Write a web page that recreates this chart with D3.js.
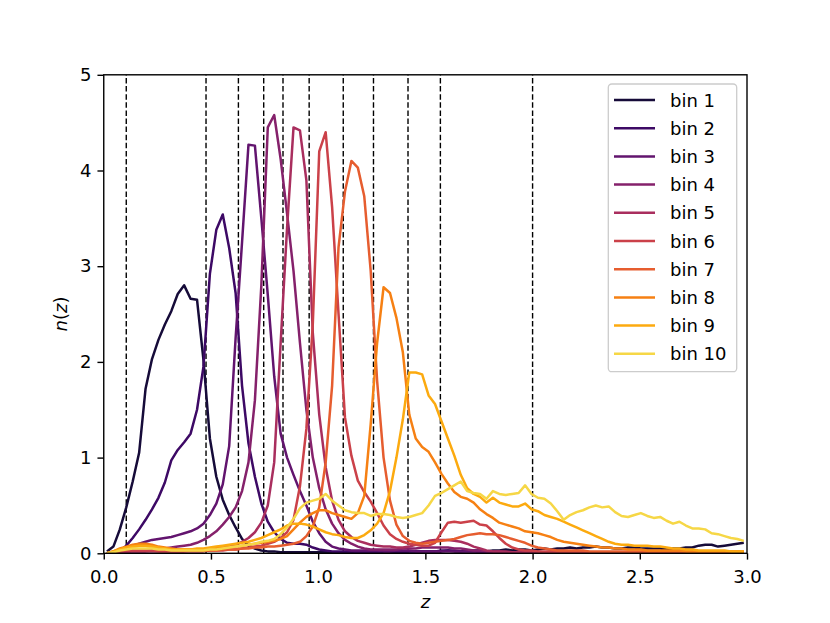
<!DOCTYPE html>
<html lang="en">
<head>
<meta charset="UTF-8">
<title>n(z) per tomographic bin</title>
<style>
  body { margin: 0; background: #fff; }
  svg { display: block; font-family: "DejaVu Sans", sans-serif; }
</style>
</head>
<body>
<svg id="chart" width="830" height="623"></svg>
<script src="https://d3js.org/d3.v7.min.js"></script>
<script>
// redshift grid (bin centres)
const zGrid = [
  0.015,0.045,0.075,0.105,0.135,0.165,0.195,0.225,0.255,0.285,
  0.315,0.345,0.375,0.405,0.435,0.465,0.495,0.525,0.555,0.585,
  0.615,0.645,0.675,0.705,0.735,0.765,0.795,0.825,0.855,0.885,
  0.915,0.945,0.975,1.005,1.035,1.065,1.095,1.125,1.155,1.185,
  1.215,1.245,1.275,1.305,1.335,1.365,1.395,1.425,1.455,1.485,
  1.515,1.545,1.575,1.605,1.635,1.665,1.695,1.725,1.755,1.785,
  1.815,1.845,1.875,1.905,1.935,1.965,1.995,2.025,2.055,2.085,
  2.115,2.145,2.175,2.205,2.235,2.265,2.295,2.325,2.355,2.385,
  2.415,2.445,2.475,2.505,2.535,2.565,2.595,2.625,2.655,2.685,
  2.715,2.745,2.775,2.805,2.835,2.865,2.895,2.925,2.955,2.985
];

const bin1 = [
  0.02,0.07,0.25,0.48,0.75,1.05,1.72,2.03,2.23,2.39,
  2.53,2.71,2.80,2.66,2.65,2.02,1.20,0.80,0.56,0.40,
  0.27,0.15,0.08,0.05,0.03,0.02,0.02,0.01,0.01,0.01,
  0.01,0.01,0.01,0.01,0.01,0.01,0.01,0.01,0.01,0.01,
  0.01,0.01,0.01,0.01,0.01,0.01,0.01,0.02,0.02,0.02,
  0.02,0.02,0.02,0.03,0.02,0.02,0.03,0.03,0.03,0.02,
  0.03,0.03,0.04,0.03,0.04,0.04,0.03,0.04,0.05,0.04,
  0.05,0.05,0.06,0.05,0.06,0.06,0.07,0.06,0.06,0.05,
  0.05,0.06,0.06,0.05,0.05,0.05,0.05,0.04,0.05,0.05,
  0.06,0.06,0.08,0.09,0.09,0.07,0.08,0.09,0.10,0.11
];
const bin2 = [
  0.00,0.00,0.02,0.08,0.16,0.25,0.35,0.46,0.58,0.74,
  0.97,1.08,1.16,1.25,1.50,1.95,2.92,3.38,3.54,3.19,
  2.72,1.75,1.15,0.80,0.52,0.33,0.22,0.15,0.11,0.10,
  0.10,0.09,0.06,0.04,0.03,0.02,0.02,0.02,0.02,0.01,
  0.01,0.01,0.01,0.02,0.02,0.02,0.02,0.02,0.02,0.02,
  0.02,0.02,0.03,0.03,0.03,0.02,0.02,0.02,0.02,0.02,
  0.02,0.02,0.01,0.01,0.01,0.01,0.01,0.01,0.01,0.01,
  0.01,0.01,0.01,0.01,0.01,0.01,0.01,0.01,0.01,0.01,
  0.01,0.01,0.01,0.01,0.01,0.01,0.01,0.01,0.01,0.01,
  0.01,0.01,0.01,0.01,0.01,0.01,0.01,0.01,0.01,0.01
];
const bin3 = [
  0.00,0.01,0.03,0.05,0.08,0.10,0.12,0.14,0.15,0.16,
  0.17,0.19,0.21,0.23,0.26,0.31,0.40,0.52,0.72,1.12,
  2.25,3.25,4.27,4.26,3.50,2.70,1.85,1.25,1.00,0.82,
  0.65,0.50,0.33,0.21,0.12,0.07,0.05,0.04,0.03,0.03,
  0.03,0.03,0.03,0.02,0.02,0.03,0.03,0.03,0.02,0.02,
  0.02,0.02,0.02,0.02,0.02,0.02,0.02,0.02,0.01,0.01,
  0.01,0.01,0.01,0.01,0.01,0.01,0.01,0.01,0.01,0.01,
  0.01,0.01,0.01,0.01,0.01,0.01,0.01,0.01,0.01,0.01,
  0.01,0.01,0.01,0.01,0.01,0.01,0.01,0.01,0.01,0.01,
  0.01,0.01,0.01,0.01,0.01,0.01,0.01,0.01,0.01,0.01
];
const bin4 = [
  0.00,0.00,0.01,0.01,0.02,0.02,0.02,0.03,0.04,0.05,
  0.06,0.07,0.08,0.09,0.11,0.14,0.18,0.23,0.30,0.38,
  0.48,0.65,0.95,1.60,2.80,4.45,4.58,4.12,3.55,2.95,
  2.20,1.50,1.00,0.68,0.46,0.31,0.21,0.14,0.10,0.07,
  0.05,0.04,0.04,0.04,0.04,0.04,0.05,0.05,0.05,0.06,
  0.06,0.06,0.06,0.06,0.05,0.05,0.04,0.03,0.03,0.02,
  0.02,0.02,0.01,0.01,0.01,0.01,0.01,0.01,0.01,0.01,
  0.01,0.01,0.01,0.01,0.01,0.01,0.01,0.01,0.01,0.01,
  0.01,0.01,0.01,0.01,0.01,0.01,0.01,0.01,0.01,0.01,
  0.01,0.01,0.01,0.01,0.01,0.01,0.01,0.01,0.01,0.01
];
const bin5 = [
  0.00,0.00,0.01,0.01,0.02,0.02,0.02,0.02,0.02,0.02,
  0.02,0.02,0.02,0.03,0.03,0.04,0.04,0.05,0.06,0.07,
  0.09,0.12,0.16,0.22,0.32,0.50,0.95,2.20,3.40,4.45,
  4.42,3.90,2.30,1.45,0.90,0.55,0.35,0.23,0.17,0.13,
  0.11,0.09,0.08,0.07,0.07,0.06,0.06,0.07,0.09,0.11,
  0.13,0.14,0.14,0.14,0.13,0.12,0.10,0.07,0.05,0.03,
  0.02,0.02,0.02,0.01,0.01,0.01,0.01,0.01,0.01,0.01,
  0.01,0.01,0.01,0.01,0.01,0.01,0.01,0.01,0.01,0.01,
  0.01,0.01,0.01,0.01,0.01,0.01,0.01,0.01,0.01,0.01,
  0.01,0.01,0.01,0.01,0.01,0.01,0.01,0.01,0.01,0.01
];
const bin6 = [
  0.00,0.01,0.02,0.03,0.03,0.03,0.03,0.03,0.02,0.02,
  0.02,0.02,0.02,0.02,0.02,0.02,0.03,0.03,0.03,0.04,
  0.04,0.05,0.06,0.07,0.08,0.10,0.12,0.16,0.22,0.35,
  0.70,1.30,2.40,4.20,4.40,3.62,2.50,1.42,1.02,0.76,
  0.64,0.54,0.42,0.29,0.20,0.15,0.12,0.10,0.09,0.08,
  0.08,0.11,0.22,0.32,0.33,0.32,0.33,0.34,0.30,0.29,
  0.23,0.16,0.10,0.06,0.04,0.03,0.03,0.02,0.02,0.02,
  0.02,0.01,0.01,0.01,0.01,0.01,0.01,0.01,0.01,0.01,
  0.01,0.01,0.01,0.01,0.01,0.01,0.01,0.01,0.01,0.01,
  0.01,0.01,0.01,0.01,0.01,0.01,0.01,0.01,0.01,0.01
];
const bin7 = [
  0.00,0.02,0.04,0.06,0.07,0.08,0.08,0.07,0.06,0.05,
  0.04,0.03,0.03,0.03,0.03,0.03,0.03,0.03,0.04,0.04,
  0.04,0.05,0.05,0.06,0.06,0.07,0.07,0.08,0.09,0.10,
  0.12,0.18,0.28,0.48,0.95,1.75,3.20,3.78,4.10,4.03,
  3.73,2.95,1.80,1.00,0.55,0.30,0.18,0.13,0.11,0.10,
  0.11,0.12,0.13,0.14,0.15,0.17,0.19,0.20,0.21,0.20,
  0.20,0.19,0.17,0.15,0.13,0.11,0.08,0.06,0.05,0.04,
  0.03,0.03,0.03,0.03,0.03,0.02,0.02,0.02,0.02,0.02,
  0.02,0.02,0.02,0.02,0.02,0.02,0.02,0.02,0.02,0.02,
  0.02,0.02,0.02,0.02,0.02,0.02,0.02,0.02,0.02,0.02
];
const bin8 = [
  0.00,0.02,0.05,0.07,0.09,0.10,0.10,0.09,0.07,0.06,
  0.05,0.04,0.04,0.04,0.04,0.04,0.05,0.05,0.06,0.06,
  0.07,0.08,0.09,0.10,0.11,0.12,0.13,0.15,0.18,0.25,
  0.32,0.38,0.42,0.45,0.45,0.42,0.40,0.38,0.36,0.42,
  0.60,1.35,2.20,2.78,2.72,2.46,2.10,1.45,1.20,1.11,
  1.06,0.95,0.83,0.73,0.64,0.59,0.57,0.53,0.46,0.41,
  0.37,0.32,0.30,0.28,0.26,0.23,0.22,0.21,0.19,0.17,
  0.14,0.12,0.11,0.10,0.09,0.08,0.07,0.06,0.06,0.05,
  0.05,0.04,0.04,0.04,0.03,0.03,0.03,0.03,0.03,0.03,
  0.02,0.02,0.02,0.02,0.02,0.02,0.02,0.02,0.02,0.02
];
const bin9 = [
  0.00,0.02,0.04,0.06,0.07,0.08,0.08,0.07,0.06,0.05,
  0.04,0.04,0.04,0.04,0.05,0.05,0.06,0.07,0.08,0.09,
  0.10,0.11,0.12,0.14,0.16,0.19,0.22,0.25,0.29,0.31,
  0.31,0.30,0.28,0.25,0.22,0.20,0.19,0.17,0.16,0.16,
  0.19,0.24,0.31,0.42,0.65,1.00,1.40,1.89,1.89,1.87,
  1.65,1.56,1.38,1.20,1.02,0.82,0.68,0.62,0.59,0.53,
  0.58,0.53,0.51,0.49,0.49,0.52,0.46,0.44,0.40,0.38,
  0.36,0.33,0.30,0.27,0.24,0.21,0.18,0.15,0.12,0.10,
  0.09,0.09,0.08,0.08,0.08,0.07,0.07,0.06,0.05,0.05,
  0.04,0.04,0.03,0.03,0.03,0.03,0.03,0.02,0.02,0.02
];
const bin10 = [
  0.00,0.01,0.03,0.04,0.05,0.05,0.05,0.05,0.04,0.04,
  0.03,0.03,0.03,0.03,0.03,0.03,0.04,0.04,0.05,0.06,
  0.07,0.08,0.09,0.10,0.12,0.13,0.15,0.20,0.27,0.36,
  0.47,0.53,0.55,0.57,0.62,0.55,0.50,0.45,0.43,0.42,
  0.42,0.39,0.41,0.41,0.40,0.38,0.37,0.38,0.40,0.42,
  0.50,0.60,0.63,0.67,0.71,0.75,0.65,0.63,0.62,0.57,
  0.65,0.62,0.61,0.62,0.63,0.71,0.62,0.58,0.57,0.52,
  0.44,0.35,0.40,0.43,0.45,0.48,0.50,0.48,0.49,0.43,
  0.39,0.38,0.40,0.42,0.39,0.37,0.38,0.34,0.31,0.33,
  0.29,0.26,0.26,0.25,0.21,0.20,0.18,0.16,0.15,0.13
];

const series = [bin1, bin2, bin3, bin4, bin5, bin6, bin7, bin8, bin9, bin10];
const binNames = ["bin 1","bin 2","bin 3","bin 4","bin 5","bin 6","bin 7","bin 8","bin 9","bin 10"];
// tomographic bin edges (dashed lines)
const binEdges = [0.105, 0.477, 0.628, 0.746, 0.836, 0.958, 1.117, 1.258, 1.419, 1.570, 2.0];
const xTicks = [0, 0.5, 1, 1.5, 2, 2.5, 3];
const yTicks = [0, 1, 2, 3, 4, 5];

const plotLeft = 103.75, plotRight = 747, plotTop = 74.8, plotBottom = 553.3;

const svg = d3.select("#chart");
svg.append("rect").attr("width", 830).attr("height", 623).attr("fill", "#fff");

const x = d3.scaleLinear().domain([0, 3]).range([plotLeft, plotRight]);
const y = d3.scaleLinear().domain([0, 5]).range([plotBottom, plotTop]);
const color = i => d3.interpolateInferno(0.1 + 0.8 * i / 9);

svg.append("clipPath").attr("id", "clip")
  .append("rect")
  .attr("x", plotLeft).attr("y", plotTop)
  .attr("width", plotRight - plotLeft).attr("height", plotBottom - plotTop);

// bin edges
svg.append("g")
  .selectAll("line")
  .data(binEdges)
  .join("line")
  .attr("x1", d => x(d)).attr("x2", d => x(d))
  .attr("y1", plotBottom).attr("y2", plotTop)
  .attr("stroke", "#000")
  .attr("stroke-width", 1.4)
  .attr("stroke-dasharray", "5.5,2.6");

const line = d3.line()
  .x((d, i) => x(zGrid[i]))
  .y(d => y(d));

svg.append("g")
  .attr("clip-path", "url(#clip)")
  .selectAll("path")
  .data(series)
  .join("path")
  .attr("d", d => line(d))
  .attr("fill", "none")
  .attr("stroke", (d, i) => color(i))
  .attr("stroke-width", 2.5)
  .attr("stroke-linejoin", "round");

// axes
const xAxis = svg.append("g")
  .attr("transform", `translate(0,${plotBottom})`)
  .call(d3.axisBottom(x).tickValues(xTicks).tickFormat(d3.format(".1f")).tickSize(6.3).tickPadding(6));
const yAxis = svg.append("g")
  .attr("transform", `translate(${plotLeft},0)`)
  .call(d3.axisLeft(y).tickValues(yTicks).tickFormat(d3.format("d")).tickSize(6.3).tickPadding(6));

[xAxis, yAxis].forEach(g => {
  g.select(".domain").remove();
  g.selectAll(".tick line").attr("stroke", "#000").attr("stroke-width", 1.4);
  g.selectAll(".tick text")
    .attr("fill", "#000")
    .style("font-family", "DejaVu Sans")
    .style("font-size", "18px");
});
xAxis.selectAll(".tick text").attr("dy", "0.95em");

// frame
svg.append("rect")
  .attr("x", plotLeft).attr("y", plotTop)
  .attr("width", plotRight - plotLeft).attr("height", plotBottom - plotTop)
  .attr("fill", "none")
  .attr("stroke", "#000")
  .attr("stroke-width", 1.4);

// axis labels
const xLabel = svg.append("text")
  .attr("x", (plotLeft + plotRight) / 2).attr("y", 608)
  .attr("text-anchor", "middle")
  .style("font-size", "18px");
xLabel.append("tspan").attr("font-style", "italic").text("z");

const yLabel = svg.append("text")
  .attr("transform", `translate(67,${(plotTop + plotBottom) / 2}) rotate(-90)`)
  .attr("text-anchor", "middle")
  .style("font-size", "18px");
yLabel.append("tspan").attr("font-style", "italic").text("n");
yLabel.append("tspan").text("(");
yLabel.append("tspan").attr("font-style", "italic").text("z");
yLabel.append("tspan").text(")");

// legend
const legend = svg.append("g");
legend.append("rect")
  .attr("x", 608.3).attr("y", 84)
  .attr("width", 128.4).attr("height", 287.7)
  .attr("rx", 3.5)
  .attr("fill", "#fff").attr("fill-opacity", 0.8)
  .attr("stroke", "#cccccc").attr("stroke-width", 1.3);

const rows = legend.selectAll("g.row")
  .data(binNames)
  .join("g")
  .attr("class", "row")
  .attr("transform", (d, i) => `translate(0,${100 + i * 28.2})`);
rows.append("line")
  .attr("x1", 614).attr("x2", 655)
  .attr("stroke", (d, i) => color(i))
  .attr("stroke-width", 2.5);
rows.append("text")
  .attr("x", 670).attr("y", 6.5)
  .style("font-size", "18px")
  .text(d => d);
</script>
</body>
</html>
